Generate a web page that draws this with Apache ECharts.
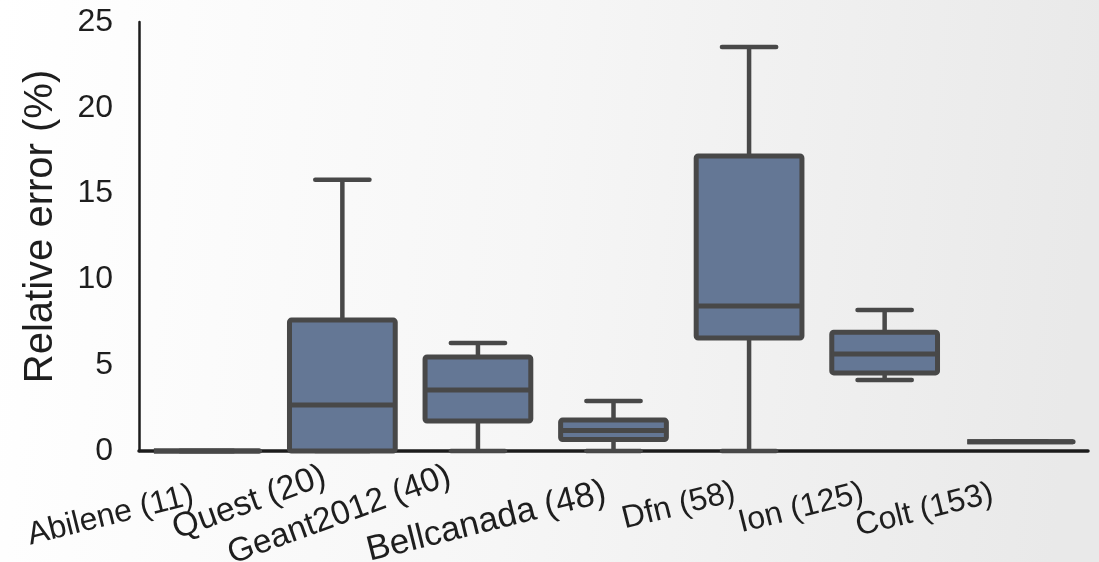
<!DOCTYPE html>
<html>
<head>
<meta charset="utf-8">
<script src="https://cdn.jsdelivr.net/npm/echarts@6/dist/echarts.min.js"></script>
<style>
html,body{margin:0;padding:0;}
#chart{width:1099px;height:562px;}
</style>
</head>
<body>
<div id="chart"></div>
<script>
const categories = ['Abilene (11)', 'Quest (20)', 'Geant2012 (40)', 'Bellcanada (48)', 'Dfn (58)', 'Ion (125)', 'Colt (153)'];
const mins    = [0, 0,    0,    0,    0,     4.14, 0.54];
const q1s     = [0, 0,    1.75, 0.67, 6.58,  4.55, 0.54];
const medians = [0, 2.68, 3.55, 1.19, 8.45,  5.65, 0.54];
const q3s     = [0, 7.63, 5.48, 1.80, 17.19, 6.92, 0.54];
const maxs    = [0, 15.8, 6.29, 2.91, 23.54, 8.22, 0.54];
const yTicks  = [0, 5, 10, 15, 20, 25];

// label placement tweaks (style only)
const labelRotations = [14, 20, 20, 14, 14, 14, 14];
const labelSizes = [32, 34, 33.5, 35, 32, 32, 32];
const labelPads = [
  [40, 19, 0, 0],
  [0, 18, 4, 0],
  [0, 28, 12, 0],
  [37, 13, 0, 0],
  [34, 19, 0, 0],
  [32, 26, 0, 0],
  [30, 32, 0, 0]
];
const rotationGroups = [14, 20];

const data = categories.map((c, i) => [i, mins[i], q1s[i], medians[i], q3s[i], maxs[i]]);
const axisData = categories.map((c, i) => ({
  value: c,
  textStyle: { padding: labelPads[i], fontSize: labelSizes[i] }
}));

const STROKE = '#484848';
const FILL = '#647795';

function renderItem(params, api) {
  const idx = api.value(0);
  const pMin = api.coord([idx, api.value(1)]);
  const pQ1 = api.coord([idx, api.value(2)]);
  const pMed = api.coord([idx, api.value(3)]);
  const pQ3 = api.coord([idx, api.value(4)]);
  const pMax = api.coord([idx, api.value(5)]);
  const band = api.size([1, 0])[0];
  const bw = band * 0.78;
  const cw = band * 0.40;
  const x = pMed[0];
  const lineStyle = { stroke: STROKE, lineWidth: 4.5, lineCap: 'round', fill: null };
  return {
    type: 'group',
    children: [
      { type: 'line', shape: { x1: x, y1: pMax[1], x2: x, y2: pQ3[1] }, style: Object.assign({}, lineStyle, {lineCap: 'butt'}) },
      { type: 'line', shape: { x1: x, y1: pQ1[1], x2: x, y2: pMin[1] }, style: Object.assign({}, lineStyle, {lineCap: 'butt'}) },
      { type: 'line', shape: { x1: x - cw / 2, y1: pMax[1], x2: x + cw / 2, y2: pMax[1] }, style: lineStyle },
      { type: 'line', shape: { x1: x - cw / 2, y1: pMin[1], x2: x + cw / 2, y2: pMin[1] }, style: lineStyle },
      { type: 'rect', shape: { x: x - bw / 2, y: pQ3[1], width: bw, height: pQ1[1] - pQ3[1], r: 2 },
        style: { fill: FILL, stroke: STROKE, lineWidth: 5, lineJoin: 'round' } },
      { type: 'line', shape: { x1: x - bw / 2, y1: pMed[1], x2: x + bw / 2, y2: pMed[1] }, style: { stroke: STROKE, lineWidth: 5 } }
    ]
  };
}

const xAxes = rotationGroups.map((rot, k) => ({
  type: 'category',
  data: axisData,
  position: 'bottom',
  offset: 0,
  axisLine: { show: k === 0, lineStyle: { color: '#1c1c1c', width: 3.5 } },
  axisTick: { show: false },
  axisLabel: {
    interval: 0,
    rotate: rot,
    margin: 20,
    fontSize: 32,
    fontFamily: 'Liberation Sans',
    color: '#1e1e1e',
    formatter: function (v, i) { return labelRotations[i] === rot ? '{t|' + v + '}' : ''; },
    rich: { t: { fontFamily: 'Liberation Sans', color: '#1e1e1e' } }
  },
  splitLine: { show: false }
}));

const chart = echarts.init(document.getElementById('chart'));
chart.setOption({
  animation: false,
  backgroundColor: new echarts.graphic.LinearGradient(0, 0, 1, 0.2, [
    { offset: 0, color: '#ffffff' },
    { offset: 0.5, color: '#f6f6f6' },
    { offset: 1, color: '#e9e9e9' }
  ]),
  grid: { left: 139, right: 11, top: 22, bottom: 111, containLabel: false, outerBoundsMode: 'none' },
  xAxis: xAxes,
  yAxis: {
    type: 'value',
    min: yTicks[0],
    max: yTicks[yTicks.length - 1],
    interval: 5,
    name: 'Relative error (%)',
    nameLocation: 'middle',
    nameGap: 78,
    nameTextStyle: { fontSize: 40, fontFamily: 'Liberation Sans', color: '#1e1e1e', padding: [0, 0, 0, 20] },
    axisLine: { show: true, lineStyle: { color: '#1c1c1c', width: 2.5 } },
    axisTick: { show: false },
    axisLabel: { fontSize: 32, fontFamily: 'Liberation Sans', color: '#1e1e1e', margin: 26 },
    splitLine: { show: false }
  },
  series: [{
    type: 'custom',
    renderItem: renderItem,
    data: data,
    xAxisIndex: 0,
    clip: false,
    encode: { x: 0, y: [1, 2, 3, 4, 5] }
  }]
});
</script>
</body>
</html>
